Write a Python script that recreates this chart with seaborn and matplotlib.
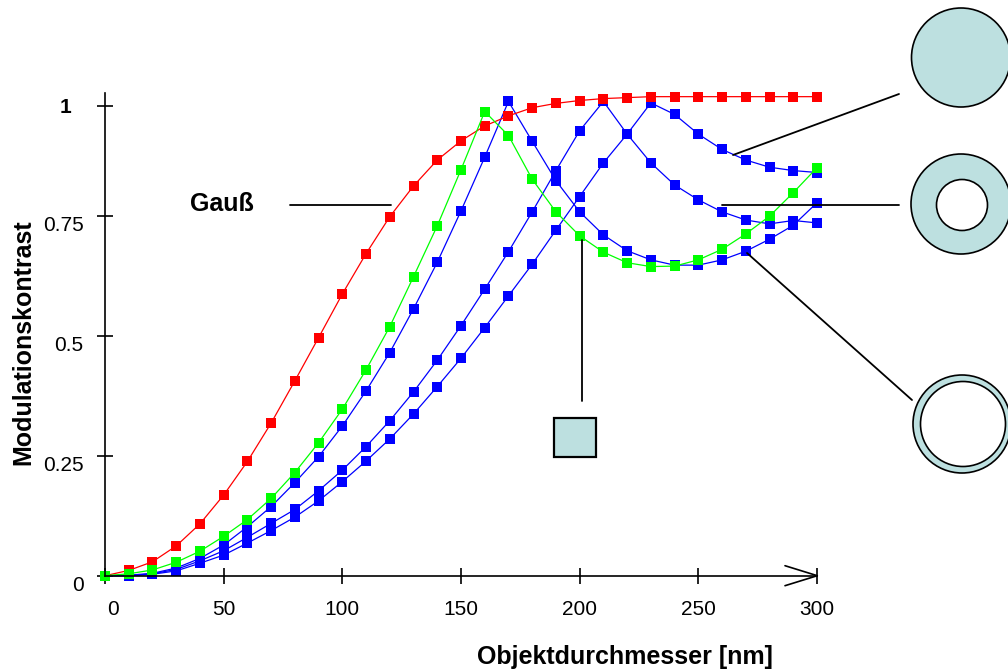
import numpy as np
import pandas as pd
import seaborn as sns
import matplotlib
matplotlib.use("Agg")
import matplotlib.pyplot as plt
from matplotlib.lines import Line2D
from matplotlib.patches import Circle, Rectangle
from matplotlib.transforms import Affine2D, ScaledTranslation

# ---------------- data ----------------
diameter_nm = list(range(0, 301, 10))

gauss = [0.000, 0.011, 0.029, 0.062, 0.108, 0.168, 0.238, 0.318, 0.406, 0.496, 0.587,
         0.671, 0.748, 0.812, 0.866, 0.906, 0.937, 0.958, 0.975, 0.984, 0.990,
         0.994, 0.996, 0.998, 0.998, 0.998, 0.998, 0.998, 0.998, 0.998, 0.998]
square = [0.000, 0.004, 0.012, 0.028, 0.051, 0.082, 0.117, 0.161, 0.215, 0.277, 0.347,
          0.429, 0.519, 0.623, 0.729, 0.846, 0.967, 0.917, 0.826, 0.758, 0.708,
          0.674, 0.652, 0.644, 0.645, 0.658, 0.680, 0.712, 0.749, 0.798, 0.850]
thin_ring = [0.000, 0.001, 0.005, 0.016, 0.036, 0.064, 0.102, 0.144, 0.194, 0.248, 0.312,
             0.385, 0.465, 0.556, 0.653, 0.760, 0.872, 0.988, 0.905, 0.823, 0.758,
             0.710, 0.677, 0.658, 0.647, 0.647, 0.658, 0.676, 0.701, 0.730, 0.777]
thick_ring = [0.000, 0.000, 0.004, 0.013, 0.031, 0.052, 0.080, 0.109, 0.138, 0.177, 0.220,
              0.269, 0.323, 0.383, 0.449, 0.521, 0.597, 0.675, 0.758, 0.844, 0.927,
              0.988, 0.920, 0.860, 0.814, 0.783, 0.758, 0.741, 0.733, 0.740, 0.735]
disk = [0.000, 0.000, 0.003, 0.010, 0.026, 0.043, 0.068, 0.094, 0.122, 0.156, 0.196,
        0.239, 0.285, 0.337, 0.394, 0.453, 0.517, 0.583, 0.649, 0.720, 0.790,
        0.860, 0.920, 0.985, 0.961, 0.920, 0.888, 0.866, 0.851, 0.844, 0.840]

series_names = ["Scheibe", "Dicker Ring", "Dünner Ring", "Gauß", "Quadrat"]
series_values = [disk, thick_ring, thin_ring, gauss, square]
series_colors = ["#0000FF", "#0000FF", "#0000FF", "#FF0000", "#00FF00"]

x_ticks = [0, 50, 100, 150, 200, 250, 300]
y_ticks = [0, 0.25, 0.5, 0.75, 0.979]
y_tick_labels = ["0", "0.25", "0.5", "0.75", "1"]

df = pd.concat([pd.DataFrame({"d": diameter_nm, "m": v, "serie": n})
                for n, v in zip(series_names, series_values)], ignore_index=True)

# ---------------- style ----------------
sns.set_theme(style="white")
plt.rcParams["font.family"] = ["Liberation Sans", "DejaVu Sans"]

W, H = 1008, 672
fig = plt.figure(figsize=(W / 100, H / 100), dpi=100)
fig.patch.set_facecolor("white")

x0_px, x1_px = 105.0, 817.0
y0_px, ytop_px = 575.7, 93.0
ax = fig.add_axes([x0_px / W, (H - y0_px) / H, (x1_px - x0_px) / W, (y0_px - ytop_px) / H])
ax.set_facecolor("white")

sns.lineplot(data=df, x="d", y="m", hue="serie", hue_order=series_names,
             palette=dict(zip(series_names, series_colors)), marker="s",
             markersize=7.5, markeredgewidth=0, linewidth=0.9, legend=False,
             ax=ax, clip_on=False, sort=False, estimator=None)

ax.set_xlim(0, 300)
ax.set_ylim(0, (y0_px - ytop_px) / 480.0)

for s in ["top", "right"]:
    ax.spines[s].set_visible(False)
for s in ["left", "bottom"]:
    ax.spines[s].set_color("black")
    ax.spines[s].set_linewidth(1.2)

ax.set_xticks(x_ticks)
ax.set_xticklabels([str(t) for t in x_ticks])
ax.set_yticks(y_ticks)
ax.set_yticklabels(y_tick_labels)
ax.tick_params(axis="both", which="major", bottom=True, left=True, top=False, right=False,
               direction="inout", length=11, width=1.2, color="black",
               labelsize=15, labelcolor="black")
ax.tick_params(axis="x", pad=12)
ax.tick_params(axis="y", pad=10)

# y tick labels sit a little below their ticks; "1" is bold and further left
for lbl in ax.get_yticklabels():
    if lbl.get_text() == "1":
        lbl.set_fontweight("bold")
        lbl.set_transform(lbl.get_transform() + ScaledTranslation(-0.12, 0, fig.dpi_scale_trans))
    else:
        lbl.set_transform(lbl.get_transform() + ScaledTranslation(0, -0.08, fig.dpi_scale_trans))
first = ax.get_xticklabels()[0]
first.set_transform(first.get_transform() + ScaledTranslation(0.08, 0, fig.dpi_scale_trans))

ax.set_xlabel("Objektdurchmesser [nm]", fontsize=18, fontweight="bold", color="black")
ax.xaxis.set_label_coords((625 - x0_px) / (x1_px - x0_px), (y0_px - 657) / (y0_px - ytop_px))
ax.xaxis.label.set_va("center")
ax.set_ylabel("Modulationskontrast", fontsize=18, fontweight="bold", color="black")
ax.yaxis.set_label_coords((23 - x0_px) / (x1_px - x0_px), (y0_px - 342) / (y0_px - ytop_px))
ax.yaxis.label.set_va("center")
ax.yaxis.label.set_ha("center")

# ---------------- decorations in pixel space ----------------
T = Affine2D().scale(1, -1).translate(0, H)


def seg(xs, ys, lw=1.3):
    fig.add_artist(Line2D(xs, ys, color="black", lw=lw, transform=T))


# x-axis arrowhead
seg([785, 817.3, 785], [565.7, 575.7, 585.7], lw=1.2)

teal = "#BDE0E0"
# callout: Gauß
fig.text(222 / W, 1 - 204 / H, "Gauß", fontsize=18, fontweight="bold",
         ha="center", va="center", color="black")
seg([290, 391], [205, 205])
# callout: square object
seg([581.5, 581.5], [240, 401])
fig.add_artist(Rectangle((554, 418), 42, 39, transform=T, facecolor=teal,
                         edgecolor="black", lw=1.6))
# callout: disk
seg([733, 899], [155, 94])
fig.add_artist(Circle((961, 57.5), 49.5, transform=T, facecolor=teal, edgecolor="black", lw=1.2))
# callout: thick ring
seg([722, 899], [204.5, 204.5])
fig.add_artist(Circle((961, 204), 50, transform=T, facecolor=teal, edgecolor="black", lw=1.2))
fig.add_artist(Circle((962, 205), 25.5, transform=T, facecolor="white", edgecolor="black", lw=1.2))
# callout: thin ring
seg([747, 912], [253, 400])
fig.add_artist(Circle((962, 424), 49, transform=T, facecolor=teal, edgecolor="black", lw=1.2))
fig.add_artist(Circle((963, 424), 42.5, transform=T, facecolor="white", edgecolor="black", lw=1.2))

fig.savefig("out.png", dpi=100, facecolor="white")
